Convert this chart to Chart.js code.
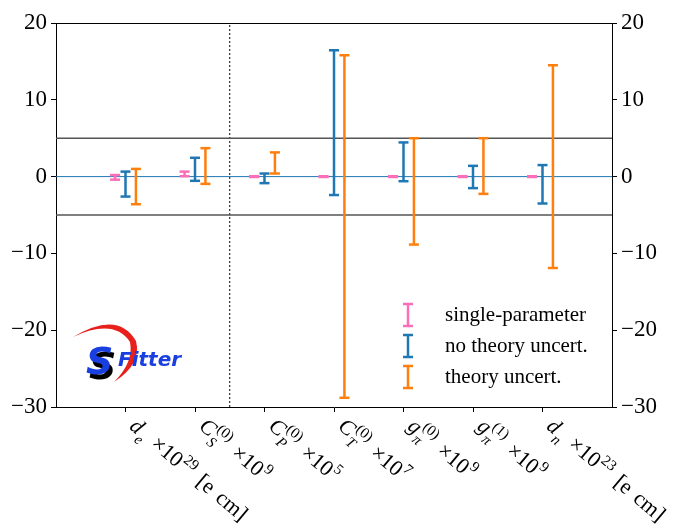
<!DOCTYPE html>
<html>
<head>
<meta charset="utf-8">
<script src="https://cdn.jsdelivr.net/npm/chart.js@4.4.0/dist/chart.umd.min.js"></script>
<style>
html, body { margin: 0; padding: 0; background: #fff; }
#wrap { width: 676px; height: 525px; }
</style>
</head>
<body>
<div id="wrap"><canvas id="myChart"></canvas></div>
<script>
const categories = ['d_{e} ×10^{29} [e cm]', 'C_{S}^{(0)} ×10^{9}', 'C_{P}^{(0)} ×10^{5}', 'C_{T}^{(0)} ×10^{7}', 'g_{π}^{(0)} ×10^{9}', 'g_{π}^{(1)} ×10^{9}', 'd_{n} ×10^{23} [e cm]']
const seriesNames = ['single-parameter', 'no theory uncert.', 'theory uncert.']
const singleLow = [-0.4, 0.05, -0.05, -0.05, -0.05, -0.05, -0.05]
const singleHigh = [0.2, 0.65, 0.05, 0.05, 0.05, 0.05, 0.05]
const noTheoryLow = [-2.6, -0.55, -0.85, -2.4, -0.6, -1.5, -3.5]
const noTheoryHigh = [0.65, 2.45, 0.4, 16.45, 4.45, 1.4, 1.5]
const theoryLow = [-3.6, -0.95, 0.4, -28.8, -8.85, -2.25, -11.9]
const theoryHigh = [1.0, 3.7, 3.15, 15.8, 5.0, 5.0, 14.5]
const yTicks = [20, 10, 0, -10, -20, -30]
const bandLimits = [5, -5]
const splitAt = 1.5

const pink = '#fb6fb8'
const blue = '#1f77b4'
const orange = '#ff7f0e'
const serif = '"Liberation Serif", "DejaVu Serif", serif'

// each error bar: low point, high point, then a gap
const errorData = (low, high, shift) => {
    let pts = []
    for (let i = 0; i < categories.length; i++) {
        pts.push({x: i + shift, y: low[i]})
        pts.push({x: i + shift, y: high[i]})
        pts.push({x: i + shift, y: null})
    }
    return pts
}

const errorSet = (label, low, high, shift, color) => ({
    label: label,
    data: errorData(low, high, shift),
    showLine: true,
    spanGaps: false,
    borderColor: color,
    borderWidth: 2.5,
    pointStyle: 'line',
    pointRadius: 5,
    pointBorderWidth: 2.5,
    pointBorderColor: color,
    pointBackgroundColor: color,
    isErrorBar: true,
})

const refLine = (pts, color, width, dash) => ({
    data: pts,
    showLine: true,
    borderColor: color,
    borderWidth: width,
    borderDash: dash || [],
    pointRadius: 0,
})

const parseRich = (s) => {
    let out = []
    let i = 0, buf = ''
    while (i < s.length) {
        const c = s[i]
        if ((c === '_' || c === '^') && s[i + 1] === '{') {
            if (buf) { out.push({t: buf, k: 'n'}); buf = '' }
            const end = s.indexOf('}', i)
            out.push({t: s.slice(i + 2, end), k: c === '_' ? 'sub' : 'sup'})
            i = end + 1
        } else { buf += c; i++ }
    }
    if (buf) out.push({t: buf, k: 'n'})
    return out
}

const drawRich = (ctx, s, size) => {
    const tokens = parseRich(s)
    const small = Math.round(size * 0.7)
    let x = 0
    let scriptStart = null, scriptW = 0
    tokens.forEach(tk => {
        if (tk.k === 'n') {
            if (scriptStart !== null) { x = scriptStart + scriptW; scriptStart = null; scriptW = 0 }
            const italic = /^[A-Za-z]$/.test(tk.t)
            ctx.font = (italic ? 'italic ' : '') + size + 'px ' + serif
            // wider math spacing around spaces
            tk.t.split(' ').forEach((part, j) => {
                if (j > 0) x += size * 0.36
                ctx.fillText(part, x, 0)
                x += ctx.measureText(part).width
            })
        } else {
            if (scriptStart === null) { scriptStart = x; scriptW = 0 }
            const italic = tk.k === 'sub' && /^[A-Za-zπ]$/.test(tk.t)
            ctx.font = (italic ? 'italic ' : '') + small + 'px ' + serif
            const dy = tk.k === 'sub' ? size * 0.32 : -size * 0.42
            ctx.fillText(tk.t, scriptStart + 1, dy)
            scriptW = Math.max(scriptW, ctx.measureText(tk.t).width + 2)
        }
    })
}

const decorations = {
    id: 'decorations',
    afterDraw(chart) {
        const ctx = chart.ctx
        const area = chart.chartArea
        const xs = chart.scales.x
        ctx.save()
        // top spine
        ctx.strokeStyle = '#000'
        ctx.lineWidth = 1
        ctx.beginPath()
        ctx.moveTo(area.left, area.top + 0.5)
        ctx.lineTo(area.right, area.top + 0.5)
        ctx.stroke()

        // rotated category labels
        ctx.fillStyle = '#000'
        ctx.textBaseline = 'alphabetic'
        categories.forEach((c, i) => {
            const px = xs.getPixelForValue(i)
            ctx.save()
            ctx.translate(px + 3, area.bottom + 21)
            ctx.rotate(Math.PI * 40 / 180)
            drawRich(ctx, c, 22)
            ctx.restore()
        })

        // legend
        const lx = area.right - 204
        const ly = area.top + 292
        chart.data.datasets.filter(d => d.isErrorBar).forEach((d, i) => {
            const y = ly + i * 31
            ctx.strokeStyle = d.borderColor
            ctx.lineWidth = 2.5
            ctx.beginPath()
            ctx.moveTo(lx, y - 11); ctx.lineTo(lx, y + 11)
            ctx.moveTo(lx - 5, y - 11); ctx.lineTo(lx + 5, y - 11)
            ctx.moveTo(lx - 5, y + 11); ctx.lineTo(lx + 5, y + 11)
            ctx.stroke()
            ctx.fillStyle = '#000'
            ctx.font = '21px ' + serif
            ctx.textBaseline = 'middle'
            ctx.fillText(d.label, lx + 37, y)
        })

        // SFitter logo
        ctx.save()
        ctx.translate(area.left, area.bottom)
        ctx.fillStyle = '#e8201c'
        ctx.beginPath()
        ctx.moveTo(17, -70)
        ctx.quadraticCurveTo(62, -97, 80, -66)
        ctx.quadraticCurveTo(86, -43, 58, -25)
        ctx.quadraticCurveTo(78, -45, 74, -65)
        ctx.quadraticCurveTo(58, -89, 17, -70)
        ctx.fill()
        ctx.font = 'italic bold 38px "DejaVu Sans", sans-serif'
        ctx.fillStyle = '#000'
        ctx.fillText('S', 33, -38)
        ctx.fillStyle = '#1a3fe0'
        ctx.fillText('S', 30, -43)
        ctx.font = 'italic bold 20px "DejaVu Sans", sans-serif'
        ctx.fillText('Fitter', 62, -46)
        ctx.restore()

        ctx.restore()
    }
}

const yAxis = (pos, width) => ({
    type: 'linear',
    position: pos,
    min: -30,
    max: 20,
    afterBuildTicks: s => { s.ticks = yTicks.map(v => ({value: v})) },
    afterFit: s => { s.width = width },
    ticks: {
        color: '#000',
        padding: 4,
        font: {family: serif, size: 23},
        callback: v => v < 0 ? '\u2212' + (-v) : '' + v,
    },
    grid: {drawOnChartArea: false, tickLength: 5, color: '#000'},
    border: {color: '#000', width: 1},
})

new Chart(document.getElementById('myChart'), {
    type: 'scatter',
    data: {
        datasets: [
            errorSet(seriesNames[0], singleLow, singleHigh, -0.15, pink),
            errorSet(seriesNames[1], noTheoryLow, noTheoryHigh, 0, blue),
            errorSet(seriesNames[2], theoryLow, theoryHigh, 0.15, orange),
            refLine([{x: -1, y: 0}, {x: 7, y: 0}], blue, 1),
            refLine([{x: -1, y: bandLimits[0]}, {x: 7, y: bandLimits[0]}], '#555', 1.5),
            refLine([{x: -1, y: bandLimits[1]}, {x: 7, y: bandLimits[1]}], '#555', 1.5),
            refLine([{x: splitAt, y: -30}, {x: splitAt, y: 20}], '#000', 1, [2, 2]),
        ],
    },
    options: {
        responsive: true,
        maintainAspectRatio: false,
        animation: false,
        layout: {padding: {top: 23, right: 0, left: 0, bottom: 0}},
        plugins: {legend: {display: false}, tooltip: {enabled: false}},
        scales: {
            x: {
                type: 'linear',
                min: -1,
                max: 7,
                afterBuildTicks: s => { s.ticks = categories.map((c, i) => ({value: i})) },
                afterFit: s => { s.height = 118 },
                ticks: {display: false},
                grid: {drawOnChartArea: false, tickLength: 5, color: '#000'},
                border: {color: '#000', width: 1},
            },
            y: yAxis('left', 56),
            y2: yAxis('right', 64),
        },
    },
    plugins: [decorations],
})
</script>
</body>
</html>
